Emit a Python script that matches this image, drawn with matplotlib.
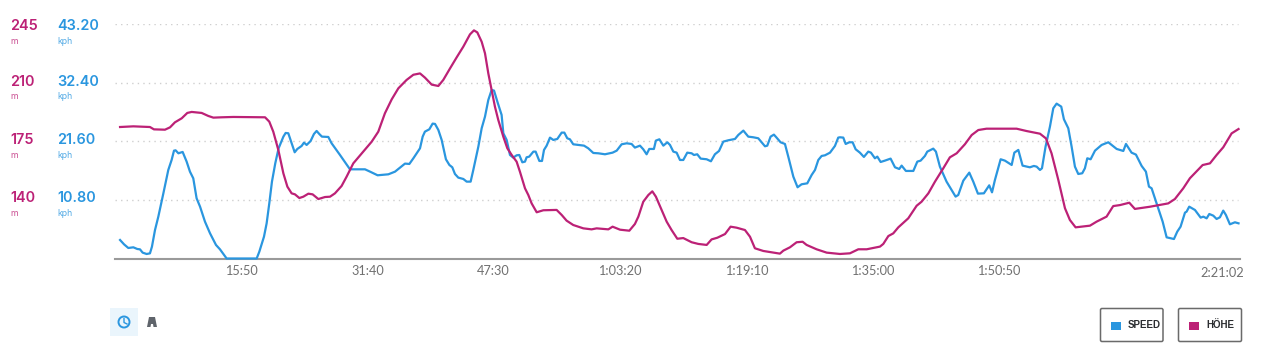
#!/usr/bin/python3
import matplotlib
matplotlib.use("Agg")
import matplotlib.pyplot as plt
from matplotlib.patches import Rectangle, FancyBboxPatch, Circle, Polygon

# seconds / kph
speed_t = [38,68,100,138,168,188,208,238,263,278,301,326,364,401,426,444,456,477,509,539,564,589,614,640,677,715,760,790,840,1066,
    1086,1121,1141,1161,1181,1206,1231,1267,1284,1304,1329,1352,1372,1404,1422,1442,1472,1497,1517,1537,1557,1605,1630,1693,1768,1818,1881,1919,1976,2057,
    2107,2144,2182,2215,2245,2270,2295,2315,2332,2365,2390,2408,2433,2458,2490,2516,2538,2558,2583,2621,2646,2676,2696,2734,2759,2784,2809,2834,2852,2877,
    2909,2922,2947,2972,2997,3022,3042,3065,3085,3097,3117,3148,3165,3193,3213,3228,3248,3273,3298,3328,3361,3381,3403,3423,3448,3486,3529,3561,3599,3637,
    3687,3744,3775,3812,3850,3887,3912,3950,3975,4000,4020,4055,4070,4096,4126,4156,4176,4201,4226,4251,4276,4306,4339,4356,4381,4407,4452,4484,4514,4545,
    4577,4615,4665,4690,4728,4765,4803,4840,4891,4908,4933,4958,4978,5008,5041,5066,5104,5136,5166,5209,5242,5267,5292,5317,5342,5380,5417,5442,5455,5480,
    5498,5525,5550,5573,5605,5635,5668,5688,5718,5736,5761,5793,5836,5869,5901,5919,5951,6007,6037,6062,6094,6112,6157,6177,6207,6257,6295,6325,6345,6383,
    6428,6458,6493,6538,6578,6599,6621,6664,6696,6747,6767,6797,6829,6884,6914,6935,6960,6975,7002,7035,7060,7085,7120,7140,7173,7198,7223,7248,7278,7298,
    7316,7341,7374,7424,7474,7537,7587,7607,7649,7682,7725,7757,7780,7800,7837,7883,7913,7968,7993,8018,8051,8063,8083,8126,8169,8189,8214,8234,8264,8289,
    8314,8339,8359,8389,8427,8454]
speed = [3.41,2.61,1.94,2.06,1.75,1.69,1.08,0.83,0.95,2.18,5.25,7.71,12.01,16.31,18.15,19.87,19.93,19.38,19.63,17.85,16.0,14.77,11.09,9.55,6.79,4.64,2.49,1.69,0,0,
    1.26,4.02,6.48,10.17,14.16,17.54,20.3,22.45,23.13,23.07,21.22,19.57,20.18,20.73,21.35,20.92,21.65,22.94,23.5,22.94,22.45,22.39,21.22,19.07,16.43,16.43,16.43,16.0,15.33,15.51,
    16.0,16.74,17.48,17.42,18.46,19.38,20.3,22.45,23.37,23.8,24.85,24.79,23.68,21.84,18.28,17.23,16.8,15.57,14.9,14.65,14.16,14.16,16.31,20.61,23.99,26.14,29.21,31.05,30.93,28.9,
    26.45,23.07,21.84,19.07,18.58,19.01,19.07,17.72,17.85,18.64,18.77,19.69,19.69,17.97,17.97,20.0,20.79,22.27,21.84,22.02,23.19,23.19,22.15,21.96,21.04,20.92,20.79,20.3,19.44,19.38,
    19.2,19.5,19.87,21.04,21.22,21.1,20.43,20.79,20.12,19.2,20.18,20.18,21.72,21.96,20.79,21.41,20.92,19.69,19.5,18.15,18.15,19.5,19.38,19.07,19.2,18.4,18.28,17.91,19.2,19.81,
    21.53,21.78,22.02,22.76,23.56,22.45,22.33,22.15,20.67,20.79,22.45,22.82,22.27,21.41,21.1,18.77,15.08,13.12,13.67,13.85,15.39,16.31,18.15,18.89,19.01,19.5,20.73,22.27,22.33,22.27,
    21.1,21.41,21.41,20.12,19.5,18.71,19.69,19.5,18.46,18.77,17.78,18.03,18.4,16.8,16.49,17.11,16.13,16.13,17.85,18.03,18.89,19.69,20.24,19.69,16.92,14.16,12.62,11.4,11.7,14.34,
    15.82,14.16,11.95,12.01,13.48,12.19,14.47,18.28,18.03,17.23,19.5,20.0,17.11,16.8,17.05,16.92,16.31,16.62,20.61,24.3,27.67,28.53,27.98,25.65,23.99,20.61,16.92,15.57,15.7,16.62,
    18.46,18.28,19.87,20.92,21.41,20.18,19.81,21.1,19.5,19.14,17.05,16.0,13.24,12.93,10.17,6.79,3.9,3.59,4.95,5.87,8.45,8.63,9.55,8.94,7.53,7.71,7.4,8.2,7.89,7.28,
    7.59,8.82,8.02,6.3,6.67,6.48]

# seconds / metres
hoehe_t = [38,138,263,293,376,414,451,502,544,577,652,702,740,803,890,1129,1161,1191,1229,1267,1297,1329,1354,1387,1417,1455,1487,1530,1580,1618,
    1655,1705,1743,1793,1868,1931,1981,2031,2082,2132,2194,2245,2295,2332,2383,2433,2470,2521,2571,2621,2671,2701,2726,2759,2784,2809,2834,2859,2884,2922,
    2952,2985,3022,3047,3085,3110,3135,3173,3223,3323,3361,3398,3448,3524,3586,3624,3712,3744,3800,3870,3912,3938,3975,4013,4043,4070,4113,4151,4188,4231,
    4276,4339,4389,4452,4489,4532,4590,4632,4677,4740,4778,4815,4878,4953,5003,5029,5079,5129,5174,5204,5279,5355,5455,5530,5593,5656,5756,5781,5819,5856,
    5894,5969,5994,6032,6069,6120,6170,6232,6282,6333,6395,6446,6496,6558,6784,6859,6960,7005,7047,7098,7148,7185,7228,7336,7386,7461,7511,7562,7632,7674,
    7787,7925,7975,8038,8088,8184,8239,8289,8339,8402,8454]
hoehe = [183.5,183.9,183.5,182.1,181.9,183.3,186.3,188.7,191.9,192.5,191.9,190.1,189.1,189.3,189.5,189.3,186.7,180.7,169.8,155.8,147.9,143.9,143.3,141.1,141.9,143.7,143.3,140.5,141.7,141.9,
    143.9,148.3,153.9,161.8,168.8,174.7,180.7,191.7,200,206.6,211.6,214.7,215.5,213,208.8,208,211.6,218.5,225.1,231.5,238.8,241.2,240,234.4,227.5,215.5,205.6,195.6,187.7,177.7,
    170.8,166.8,162.8,156.8,146.9,142.9,137.9,132.6,133.8,134,131,127.6,125,123,122.4,123,122.4,124,122.2,121.6,125.6,130,138.9,142.9,145.1,141.9,134,127,122,116.8,
    117.2,114.7,113.7,113.1,116.4,117.4,119.6,124,123.4,122,118,111.1,109.5,108.5,107.9,109.7,111.7,114.7,115,113.1,110.5,108.5,107.7,108.1,110.5,110.5,112.1,113.7,118.4,120,
    123.6,129,132,136.5,138.9,143.9,150.9,158.8,165.4,167.8,173.2,178.7,181.7,182.5,182.5,181.1,179.5,176.7,167.8,151.9,135,128,123.6,124.6,127,130,136.3,136.9,138.3,134.6,
    135.9,137.9,140.5,146.9,152.9,160.8,161.8,166.8,171.4,179.7,182.3]

tick_s = [950,1900,2850,3800,4750,5700,6650]
tick_lab = ["15:50","31:40","47:30","1:03:20","1:19:10","1:35:00","1:50:50"]
end_s = 8462
end_lab = "2:21:02"
kph_ticks = [10.8,21.6,32.4,43.2]
kph_lab = ["10.80","21.60","32.40","43.20"]
m_ticks = [140,175,210,245]
m_lab = ["140","175","210","245"]

BLUE = "#2A96DF"
PINK = "#BC2176"
W, H = 1261, 364
L, R, T, B = 115, 1239.6, 24, 258.5

plt.rcParams['font.family'] = ['Inter', 'DejaVu Sans']
fig = plt.figure(figsize=(W/100, H/100), dpi=100)

ax = fig.add_axes([L/W, 1-B/H, (R-L)/W, (B-T)/H])
ax.set_xlim(0, end_s)
ax.set_ylim(0, 43.2)
ax2 = ax.twinx()
ax2.set_ylim(105, 245)

for v in kph_ticks:
    ax.axhline(v, xmax=0.9988, color="#cfcfcf", lw=1, ls=(0, (1, 3)), zorder=1)
ax.plot(speed_t, speed, color=BLUE, lw=1.6, clip_on=False, zorder=4, solid_joinstyle='round')
ax2.plot(hoehe_t, hoehe, color=PINK, lw=1.6, clip_on=False, zorder=5, solid_joinstyle='round')

for a in (ax, ax2):
    for s in ('top', 'left', 'right'):
        a.spines[s].set_visible(False)
    a.set_yticks([])
ax2.spines['bottom'].set_visible(False)
ax.spines['bottom'].set_color("#9a9a9a")
ax.spines['bottom'].set_linewidth(1.5)
ax.set_xticks(tick_s)
ax.set_xticklabels(tick_lab, family='Lato', fontsize=9.2, color="#707070")
ax.tick_params(axis='x', length=0, pad=5)
ax.annotate(end_lab, xy=(end_s, 0), xytext=(3, -10.2), textcoords='offset points', ha='right', va='center',
    annotation_clip=False, family='Lato', fontsize=9.2, color="#707070")

# overlay in picture pixels for the side labels and the buttons
ov = fig.add_axes([0, 0, 1, 1], zorder=10)
ov.set_xlim(0, W)
ov.set_ylim(H, 0)
ov.axis('off')

val_y = [198.5, 140.5, 81.5, 26]
for i in range(4):
    y = val_y[i]
    ov.text(10, y, m_lab[i], color=PINK, fontsize=10.4, fontweight='semibold', va='center', family='Inter')
    ov.text(10, y+15, "m", color=PINK, fontsize=6.3, alpha=0.8, va='center', family='Inter')
    ov.text(57, y, kph_lab[i], color=BLUE, fontsize=10.4, fontweight='semibold', va='center', family='Inter')
    ov.text(57, y+15, "kph", color=BLUE, fontsize=6.3, alpha=0.8, va='center', family='Inter')

# view switch
ov.add_patch(Rectangle((110, 308), 28, 28, fc="#EAF5FC", ec='none'))
ov.add_patch(Circle((124, 322), 5.5, fc='none', ec=BLUE, lw=1.4))
ov.plot([124, 124, 127], [318.5, 322.5, 324], color=BLUE, lw=1)
ov.add_patch(Polygon([(147, 327), (149, 317), (155, 317), (157, 327), (153.5, 327), (153, 324), (151, 324), (150.5, 327)],
    fc="#5f646b", ec='none'))

# legend buttons
for x0, x1, col, lab in [(1100.5, 1163, BLUE, "SPEED"), (1178.5, 1241.5, PINK, "HÖHE")]:
    ov.add_patch(FancyBboxPatch((x0, 308.5), x1-x0, 33, boxstyle="round,pad=0,rounding_size=1.5",
        fc='white', ec="#6a6a6a", lw=1.1))
    ov.add_patch(Rectangle((x0+10, 322), 10, 8, fc=col, ec='none'))
    ov.text(x0+27.5, 325.5, lab, fontsize=7, fontweight='bold', color="#2b2d30", va='center',
        family=['Liberation Sans Narrow', 'Liberation Sans'])

fig.savefig("out.png", dpi=100)
